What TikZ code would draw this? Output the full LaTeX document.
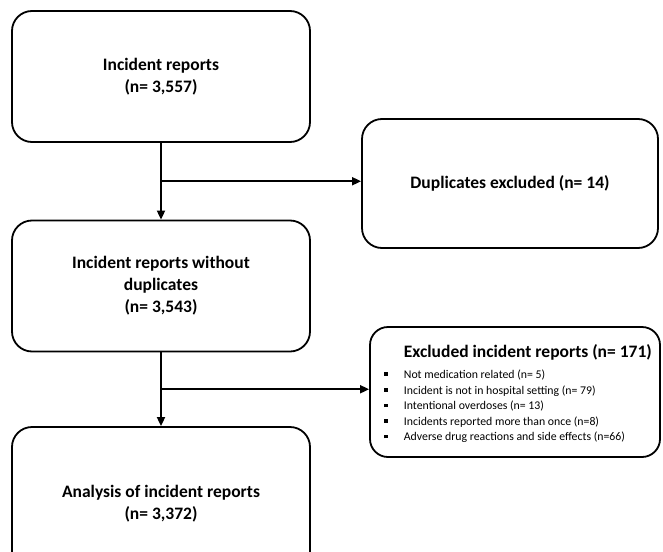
\documentclass[tikz,border=0pt]{standalone}
\usepackage{fontspec}
\setmainfont{Carlito}
\usetikzlibrary{arrows.meta,calc}
\tikzset{
     mainBox/.style =
        { draw
        , rounded corners=20pt
        , line width=1.8pt
        , align=center
        , font=\fontsize{17.5}{22}\selectfont\bfseries
        %, fill=gray!10
        }
}
\newcommand{\exclItem}[1]{\makebox[20pt][l]{\rule[2.5pt]{3.6pt}{3.6pt}}#1}

\begin{document}
\begin{tikzpicture}
            [ x=1pt
            , y=-1pt
            , >={Triangle[length=9pt,width=8pt]}
            , line width=1.8pt
            ]
            \useasboundingbox (0,0) rectangle (663,551);

            \node[mainBox, minimum width=298pt, minimum height=131pt] (1) at (161,76.5)
                {Incident reports\\(n= 3,557)};
            \node[mainBox, minimum width=296pt, minimum height=129pt] (2) at (510,183.5)
                {Duplicates excluded (n= 14)};
            \node[mainBox, minimum width=298pt, minimum height=131pt] (3) at (161,286)
                {Incident reports without\\duplicates\\(n= 3,543)};
            \node[mainBox, minimum width=290pt, minimum height=130pt, rounded corners=18pt] (4) at (515,392) {};
            \node[mainBox, minimum width=298pt, minimum height=154pt] (5) at (161,504)
                {Analysis of incident reports\\(n= 3,372)};

            % list inside the excluded box
            \node[anchor=north west, align=left, inner sep=0pt,
                  font=\fontsize{11.8}{15.6}\selectfont] (4list) at (383,344)
                {\hspace*{20pt}{\fontsize{17.5}{19}\selectfont\bfseries Excluded incident reports (n= 171)}\\[5pt]
                 \exclItem{Not medication related (n= 5)}\\
                 \exclItem{Incident is not in hospital setting (n= 79)}\\
                 \exclItem{Intentional overdoses (n= 13)}\\
                 \exclItem{Incidents reported more than once (n=8)}\\
                 \exclItem{Adverse drug reactions and side effects (n=66)}};

            \coordinate (split1) at ($(1.south)!0.5!(3.north)$);
            \coordinate (split2) at ($(3.south)!0.5!(5.north)$);

            \draw[->] (1) -- (3);
            \draw[->] (split1) -- (split1 -| 2.west);
            \draw[->] (3) -- (5);
            \draw[->] (split2) -- (split2 -| 4.west);
\end{tikzpicture}
\end{document}
